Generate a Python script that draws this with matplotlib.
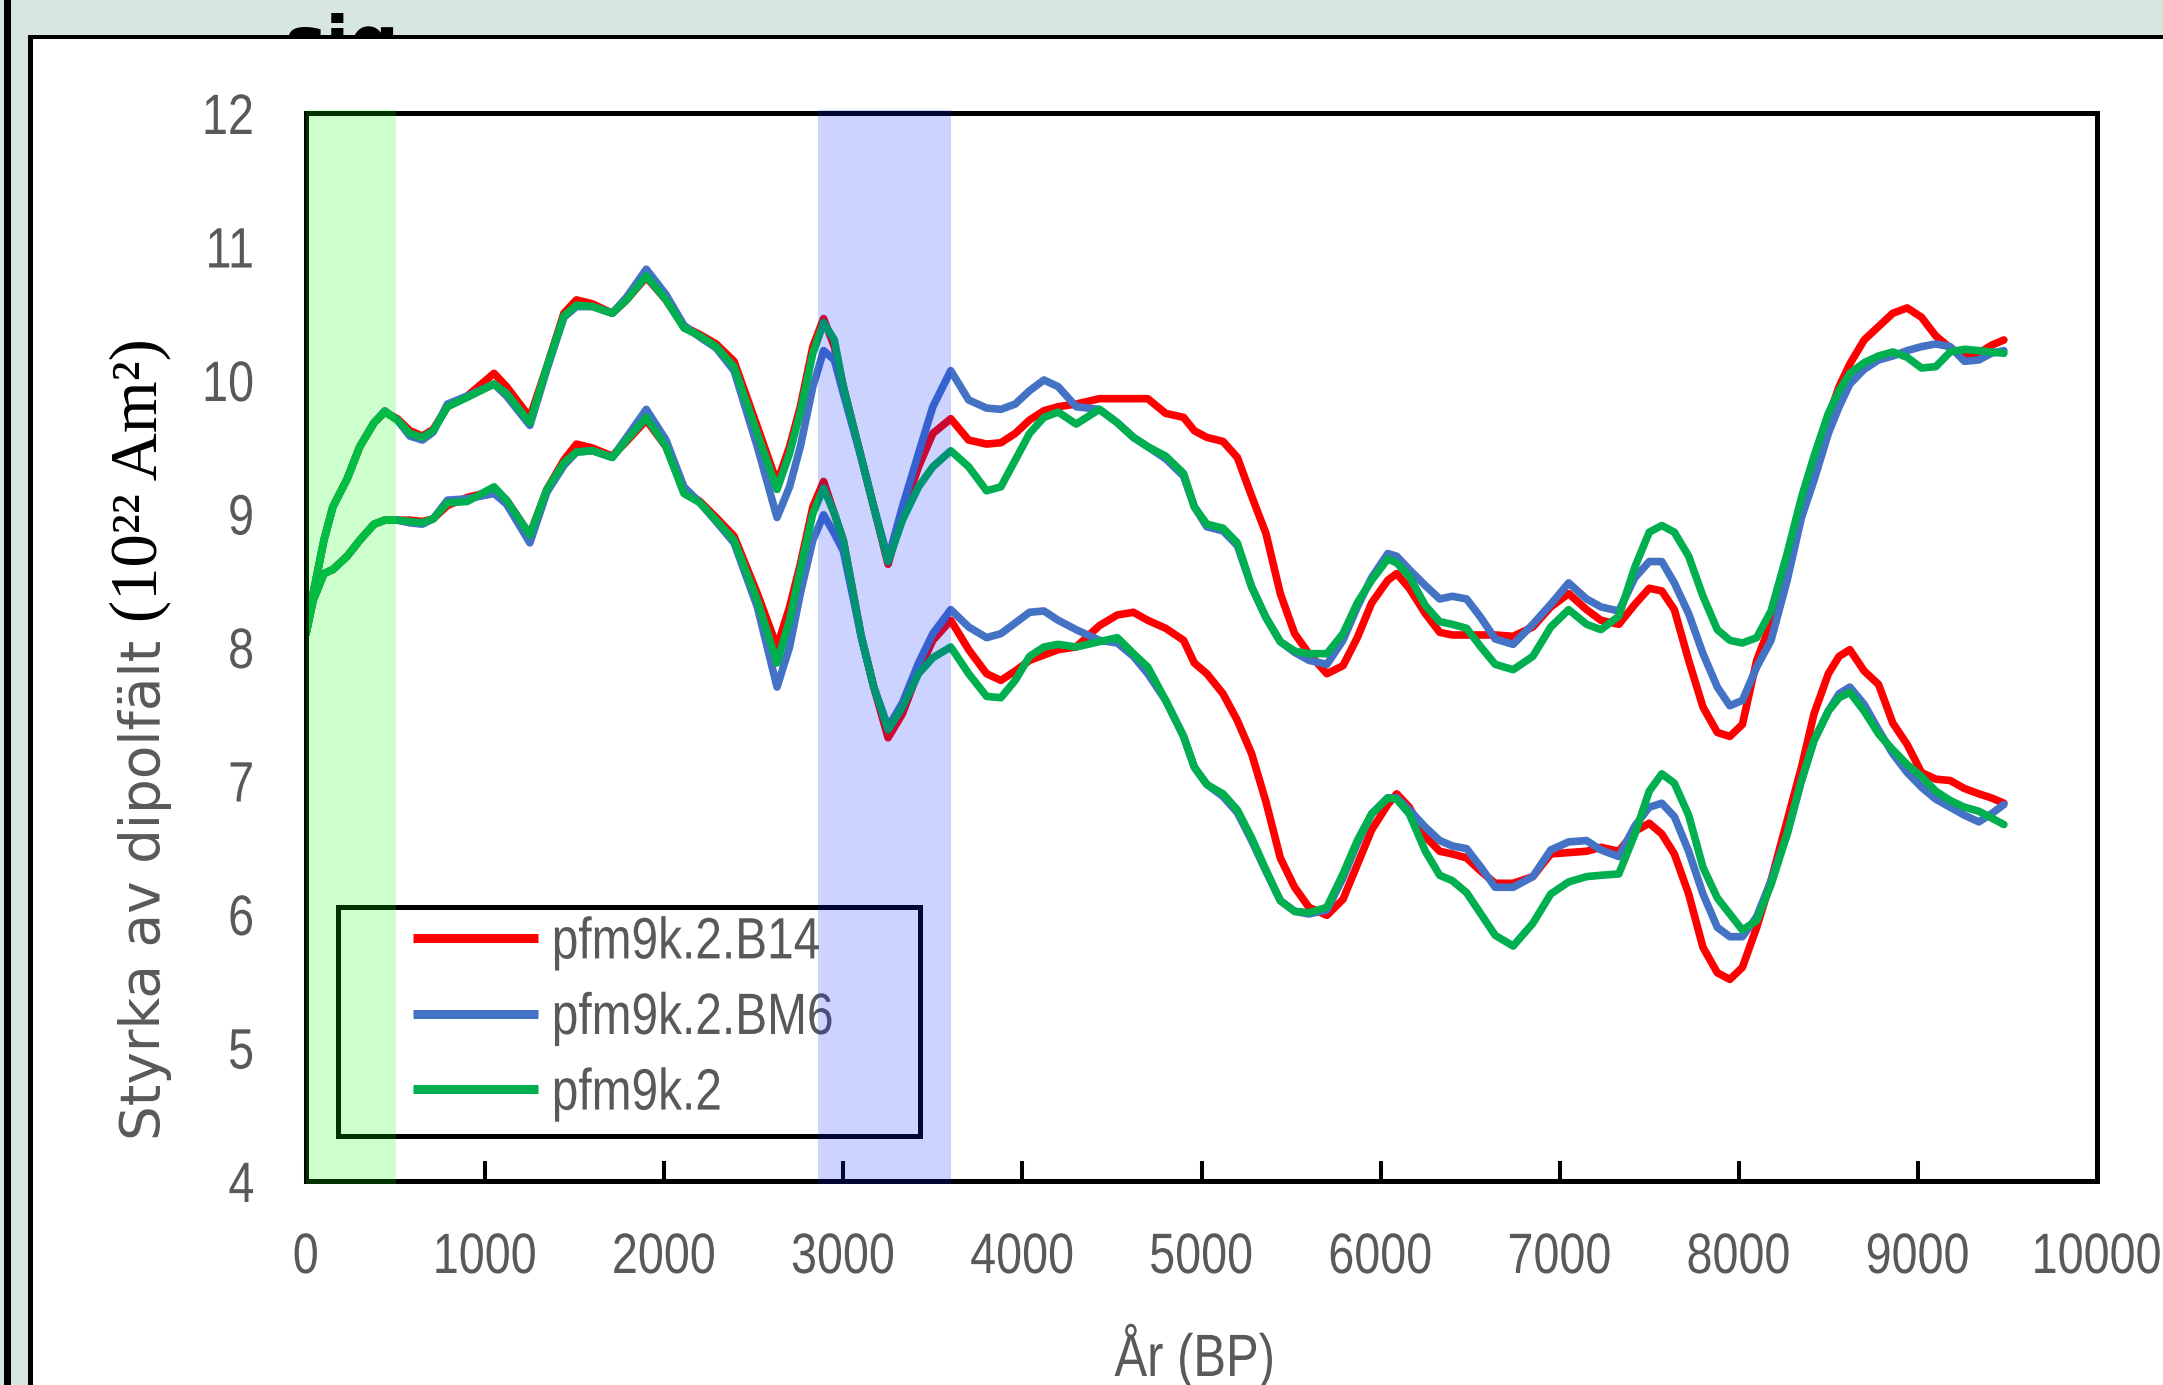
import matplotlib
matplotlib.use('Agg')
import matplotlib.pyplot as plt
import matplotlib.patheffects as pe
from matplotlib.patches import Rectangle
from matplotlib.transforms import Affine2D

# ---------------- data ----------------
years = [0, 40, 100, 150, 230, 300, 380, 440, 510, 580, 650, 710, 790, 900, 1050,
         1120, 1250, 1345, 1440, 1510, 1600, 1710, 1790, 1900, 2010, 2110, 2200,
         2290, 2390, 2520, 2630, 2700, 2760, 2830, 2890, 2950, 3000, 3100, 3170,
         3250, 3330, 3420, 3500, 3600, 3700, 3800, 3880, 3960, 4040, 4120, 4200,
         4300, 4430, 4530, 4620, 4700, 4800, 4900, 4960, 5030, 5120, 5200, 5280,
         5360, 5440, 5520, 5600, 5700, 5790, 5870, 5950, 6040, 6090, 6160, 6250,
         6330, 6400, 6480, 6560, 6640, 6740, 6850, 6950, 7050, 7150, 7230, 7330,
         7420, 7500, 7570, 7640, 7720, 7800, 7880, 7950, 8020, 8100, 8180, 8270,
         8350, 8420, 8500, 8560, 8620, 8700, 8780, 8860, 8940, 9020, 9100, 9180,
         9260, 9340, 9410, 9480]

# upper group of curves
b14_upper = [8.1, 8.4, 8.8, 9.05, 9.26, 9.5, 9.68, 9.76, 9.71, 9.62, 9.58, 9.63,
             9.8, 9.88, 10.05, 9.95, 9.72, 10.1, 10.5, 10.6, 10.57, 10.5, 10.6,
             10.77, 10.6, 10.4, 10.34, 10.27, 10.14, 9.65, 9.23, 9.5, 9.8, 10.25,
             10.46, 10.25, 9.95, 9.42, 9.05, 8.62, 9.0, 9.35, 9.6, 9.71, 9.55, 9.52,
             9.53, 9.6, 9.7, 9.77, 9.8, 9.82, 9.86, 9.86, 9.86, 9.86, 9.75, 9.72,
             9.62, 9.57, 9.54, 9.42, 9.13, 8.85, 8.4, 8.1, 7.95, 7.8, 7.86, 8.07,
             8.33, 8.5, 8.55, 8.44, 8.25, 8.11, 8.09, 8.09, 8.09, 8.09, 8.08, 8.15,
             8.3, 8.4, 8.28, 8.2, 8.17, 8.32, 8.44, 8.42, 8.28, 7.9, 7.55, 7.36,
             7.33, 7.42, 7.9, 8.18, 8.6, 9.0, 9.37, 9.72, 9.95, 10.12, 10.3, 10.4,
             10.5, 10.54, 10.47, 10.33, 10.24, 10.18, 10.2, 10.26, 10.3]
bm6_upper = [8.1, 8.4, 8.8, 9.05, 9.26, 9.5, 9.68, 9.77, 9.7, 9.58, 9.55, 9.61,
             9.82, 9.88, 9.97, 9.88, 9.66, 10.08, 10.47, 10.55, 10.55, 10.5, 10.62,
             10.83, 10.64, 10.41, 10.32, 10.24, 10.07, 9.5, 8.97, 9.2, 9.5, 9.95,
             10.22, 10.15, 9.9, 9.42, 9.05, 8.66, 9.05, 9.45, 9.8, 10.07, 9.85,
             9.79, 9.78, 9.82, 9.92, 10.0, 9.95, 9.8, 9.78, 9.68, 9.57, 9.5, 9.41,
             9.28, 9.05, 8.9, 8.87, 8.76, 8.45, 8.22, 8.04, 7.96, 7.9, 7.87, 8.05,
             8.3, 8.52, 8.7, 8.68, 8.58, 8.46, 8.36, 8.38, 8.36, 8.22, 8.06, 8.02,
             8.17, 8.32, 8.48, 8.36, 8.3, 8.27, 8.52, 8.64, 8.64, 8.48, 8.25, 7.95,
             7.7, 7.56, 7.6, 7.85, 8.05, 8.5, 8.97, 9.25, 9.6, 9.8, 9.97, 10.08,
             10.15, 10.18, 10.22, 10.25, 10.27, 10.25, 10.14, 10.15, 10.2, 10.22]
pfm_upper = [8.1, 8.4, 8.8, 9.05, 9.26, 9.5, 9.68, 9.76, 9.7, 9.6, 9.57, 9.62,
             9.8, 9.87, 9.97, 9.9, 9.68, 10.1, 10.48, 10.56, 10.55, 10.5, 10.6,
             10.78, 10.6, 10.39, 10.33, 10.25, 10.1, 9.6, 9.18, 9.45, 9.76, 10.2,
             10.43, 10.3, 9.95, 9.42, 9.05, 8.64, 8.95, 9.2, 9.35, 9.47, 9.35, 9.17,
             9.2, 9.4, 9.6, 9.72, 9.76, 9.67, 9.78, 9.68, 9.57, 9.5, 9.43, 9.3,
             9.05, 8.92, 8.89, 8.78, 8.45, 8.22, 8.04, 7.97, 7.95, 7.95, 8.1, 8.33,
             8.5, 8.66, 8.63, 8.53, 8.31, 8.19, 8.17, 8.14, 8.0, 7.87, 7.83, 7.93,
             8.15, 8.28, 8.17, 8.13, 8.23, 8.6, 8.86, 8.91, 8.86, 8.68, 8.38, 8.13,
             8.05, 8.03, 8.07, 8.27, 8.7, 9.12, 9.43, 9.75, 9.92, 10.05, 10.13,
             10.18, 10.21, 10.17, 10.09, 10.1, 10.21, 10.23, 10.22, 10.21, 10.2]

# lower group of curves
b14_lower = [8.1, 8.35, 8.55, 8.58, 8.68, 8.8, 8.92, 8.95, 8.95, 8.95, 8.94, 8.96,
             9.06, 9.12, 9.17, 9.1, 8.84, 9.18, 9.4, 9.52, 9.49, 9.43, 9.54, 9.7,
             9.5, 9.17, 9.09, 8.97, 8.83, 8.4, 8.0, 8.3, 8.62, 9.05, 9.24, 9.0, 8.8,
             8.08, 7.7, 7.32, 7.5, 7.82, 8.05, 8.2, 7.98, 7.8, 7.75, 7.82, 7.9, 7.94,
             7.98, 8.0, 8.16, 8.24, 8.26, 8.2, 8.14, 8.05, 7.88, 7.8, 7.65, 7.45,
             7.2, 6.84, 6.42, 6.2, 6.05, 5.99, 6.11, 6.37, 6.63, 6.82, 6.9, 6.8,
             6.58, 6.47, 6.45, 6.42, 6.32, 6.23, 6.23, 6.28, 6.45, 6.46, 6.47, 6.5,
             6.47, 6.62, 6.68, 6.6, 6.45, 6.15, 5.75, 5.56, 5.51, 5.6, 5.9, 6.25,
             6.7, 7.1, 7.5, 7.8, 7.93, 7.98, 7.82, 7.72, 7.43, 7.27, 7.06, 7.01,
             7.0, 6.94, 6.9, 6.87, 6.83]
bm6_lower = [8.1, 8.35, 8.55, 8.58, 8.68, 8.8, 8.92, 8.95, 8.95, 8.93, 8.92, 8.96,
             9.1, 9.11, 9.15, 9.07, 8.78, 9.16, 9.36, 9.46, 9.47, 9.42, 9.57, 9.78,
             9.55, 9.2, 9.08, 8.94, 8.78, 8.3, 7.7, 8.0, 8.4, 8.8, 8.99, 8.85, 8.72,
             8.08, 7.7, 7.4, 7.58, 7.88, 8.1, 8.28, 8.15, 8.07, 8.1, 8.18, 8.26,
             8.27, 8.2, 8.13, 8.05, 8.03, 7.93, 7.8, 7.6, 7.33, 7.1, 6.97, 6.88,
             6.76, 6.55, 6.32, 6.1, 6.02, 6.0, 6.03, 6.27, 6.53, 6.75, 6.87, 6.87,
             6.78, 6.65, 6.55, 6.51, 6.49, 6.35, 6.2, 6.2, 6.28, 6.48, 6.54, 6.55,
             6.48, 6.43, 6.66, 6.8, 6.83, 6.73, 6.47, 6.15, 5.9, 5.83, 5.83, 5.98,
             6.25, 6.6, 7.0, 7.3, 7.52, 7.65, 7.7, 7.57, 7.38, 7.2, 7.06, 6.95,
             6.86, 6.8, 6.74, 6.69, 6.75, 6.82]
pfm_lower = [8.1, 8.35, 8.55, 8.58, 8.68, 8.8, 8.92, 8.95, 8.95, 8.94, 8.93, 8.96,
             9.08, 9.09, 9.2, 9.1, 8.84, 9.18, 9.38, 9.46, 9.47, 9.42, 9.55, 9.72,
             9.5, 9.15, 9.08, 8.95, 8.8, 8.35, 7.88, 8.2, 8.58, 9.0, 9.19, 9.0, 8.8,
             8.08, 7.7, 7.38, 7.55, 7.8, 7.92, 8.0, 7.8, 7.63, 7.62, 7.75, 7.93,
             8.0, 8.02, 8.0, 8.04, 8.07, 7.95, 7.85, 7.6, 7.33, 7.1, 6.97, 6.9,
             6.78, 6.57, 6.33, 6.1, 6.02, 6.01, 6.05, 6.3, 6.55, 6.75, 6.87, 6.86,
             6.75, 6.47, 6.29, 6.25, 6.16, 6.0, 5.84, 5.76, 5.93, 6.15, 6.24, 6.28,
             6.29, 6.3, 6.6, 6.92, 7.05, 6.98, 6.74, 6.35, 6.12, 6.0, 5.88, 5.95,
             6.22, 6.6, 7.0, 7.3, 7.52, 7.62, 7.66, 7.52, 7.35, 7.23, 7.12, 7.03,
             6.92, 6.85, 6.8, 6.77, 6.72, 6.67]

labels = ['pfm9k.2.B14', 'pfm9k.2.BM6', 'pfm9k.2']
colors = ['#FF0000', '#4472C4', '#00B050']
x_ticks = list(range(0, 10001, 1000))
y_ticks = list(range(4, 13))
bands = [(0, 500), (2860, 3600)]
band_colors = ['#00FF00', '#0026FF']

grey = '#595959'
plt.rcParams['font.family'] = ['Liberation Sans', 'DejaVu Sans']


class Squeeze(pe.AbstractPathEffect):
    """Narrow the glyphs horizontally (the chart uses a condensed face)."""

    def __init__(self, sx=0.82, anchor='center'):
        super().__init__()
        self.sx = sx
        self.anchor = anchor

    def draw_path(self, renderer, gc, tpath, affine, rgbFace=None):
        xs = tpath.vertices[:, 0]
        if len(xs) == 0:
            return
        if self.anchor == 'left':
            c = xs.min()
        elif self.anchor == 'right':
            c = xs.max()
        else:
            c = (xs.min() + xs.max()) / 2
        sq = Affine2D().translate(-c, 0).scale(self.sx, 1).translate(c, 0)
        renderer.draw_path(gc, tpath, sq + affine, rgbFace)


W, H = 2163, 1385
fig = plt.figure(figsize=(W / 100, H / 100), dpi=100)
fig.patch.set_facecolor('#D7E7DF')


def fx(px):
    return px / W


def fy(py):
    return 1 - py / H


# screenshot frame around the chart
fig.text(fx(284), fy(66), 'sig', fontsize=50, fontweight='bold', family='DejaVu Sans',
         va='baseline', ha='left', zorder=-3)
fig.patches.append(Rectangle((fx(4), 0), 7 / W, 1, transform=fig.transFigure,
                             facecolor='black', edgecolor='none', zorder=-2))
fig.patches.append(Rectangle((fx(28), 0), 1, fy(35), transform=fig.transFigure,
                             facecolor='black', edgecolor='none', zorder=-2))
fig.patches.append(Rectangle((fx(33), 0), 1, fy(39), transform=fig.transFigure,
                             facecolor='white', edgecolor='none', zorder=-1))

ax = fig.add_axes([fx(306), fy(1181), (2097 - 306) / W, (1181 - 113) / H])

handles = []
for series, c, lab in zip([b14_upper, bm6_upper, pfm_upper], colors, labels):
    ln, = ax.plot(years, series, color=c, lw=5.5, solid_joinstyle='round',
                  solid_capstyle='round', label=lab)
    handles.append(ln)
for series, c in zip([b14_lower, bm6_lower, pfm_lower], colors):
    ax.plot(years, series, color=c, lw=5.5, solid_joinstyle='round',
            solid_capstyle='round')

# translucent highlight bands lie on top of everything in the plot
for (x0, x1), c in zip(bands, band_colors):
    ax.axvspan(x0, x1, ymin=-0.0025, ymax=1.0025, color=c, alpha=0.2, lw=0,
               zorder=6, clip_on=False)

ax.set_xlim(0, 10000)
ax.set_ylim(4, 12)
ax.set_xticks(x_ticks)
ax.set_yticks(y_ticks)
for s in ax.spines.values():
    s.set_linewidth(3.6)
    s.set_color('black')
ax.tick_params(axis='x', direction='in', length=14.4, width=2.9, color='black',
               pad=36, labelsize=41, labelcolor=grey)
ax.tick_params(axis='y', length=0, pad=37, labelsize=41, labelcolor=grey)
for t in ax.get_xticklabels():
    t.set_path_effects([Squeeze(0.82, 'center')])
for t in ax.get_yticklabels():
    t.set_path_effects([Squeeze(0.82, 'right')])

# legend: frame drawn separately so the entries can sit inset
ax.add_patch(Rectangle((0.0181, 0.0426), 0.325, 0.2144, transform=ax.transAxes,
                       facecolor='white', edgecolor='black', lw=3.6, zorder=4.9))
leg = ax.legend(handles=handles, labels=labels, loc='center left',
                bbox_to_anchor=(0.0597, 0.1517), borderaxespad=0, borderpad=0,
                fontsize=42, handlelength=2.14, handletextpad=0.24,
                labelspacing=0.37, frameon=False)
leg.set_zorder(5)
for t in leg.get_texts():
    t.set_color(grey)
    t.set_path_effects([Squeeze(0.82, 'left')])
for h in leg.get_lines():
    h.set_linewidth(6.5)
    h.set_solid_capstyle('butt')

# y-axis title: grey words plus a black serif unit part
fig.text(fx(145), fy(1140), 'Styrka av dipolfält', rotation=90, rotation_mode='anchor',
         ha='left', va='center', fontsize=39.5, color=grey, family='DejaVu Sans')
fig.text(fx(140), fy(622), '(10²² Am²)', rotation=90, rotation_mode='anchor',
         ha='left', va='center', fontsize=48, color='black', family='Liberation Serif')

xl = fig.text(fx(1195), fy(1376), 'År (BP)', ha='center', va='baseline', fontsize=43,
              color=grey)
xl.set_path_effects([Squeeze(0.82, 'center')])

fig.savefig('out.png', dpi=100, facecolor=fig.get_facecolor())
